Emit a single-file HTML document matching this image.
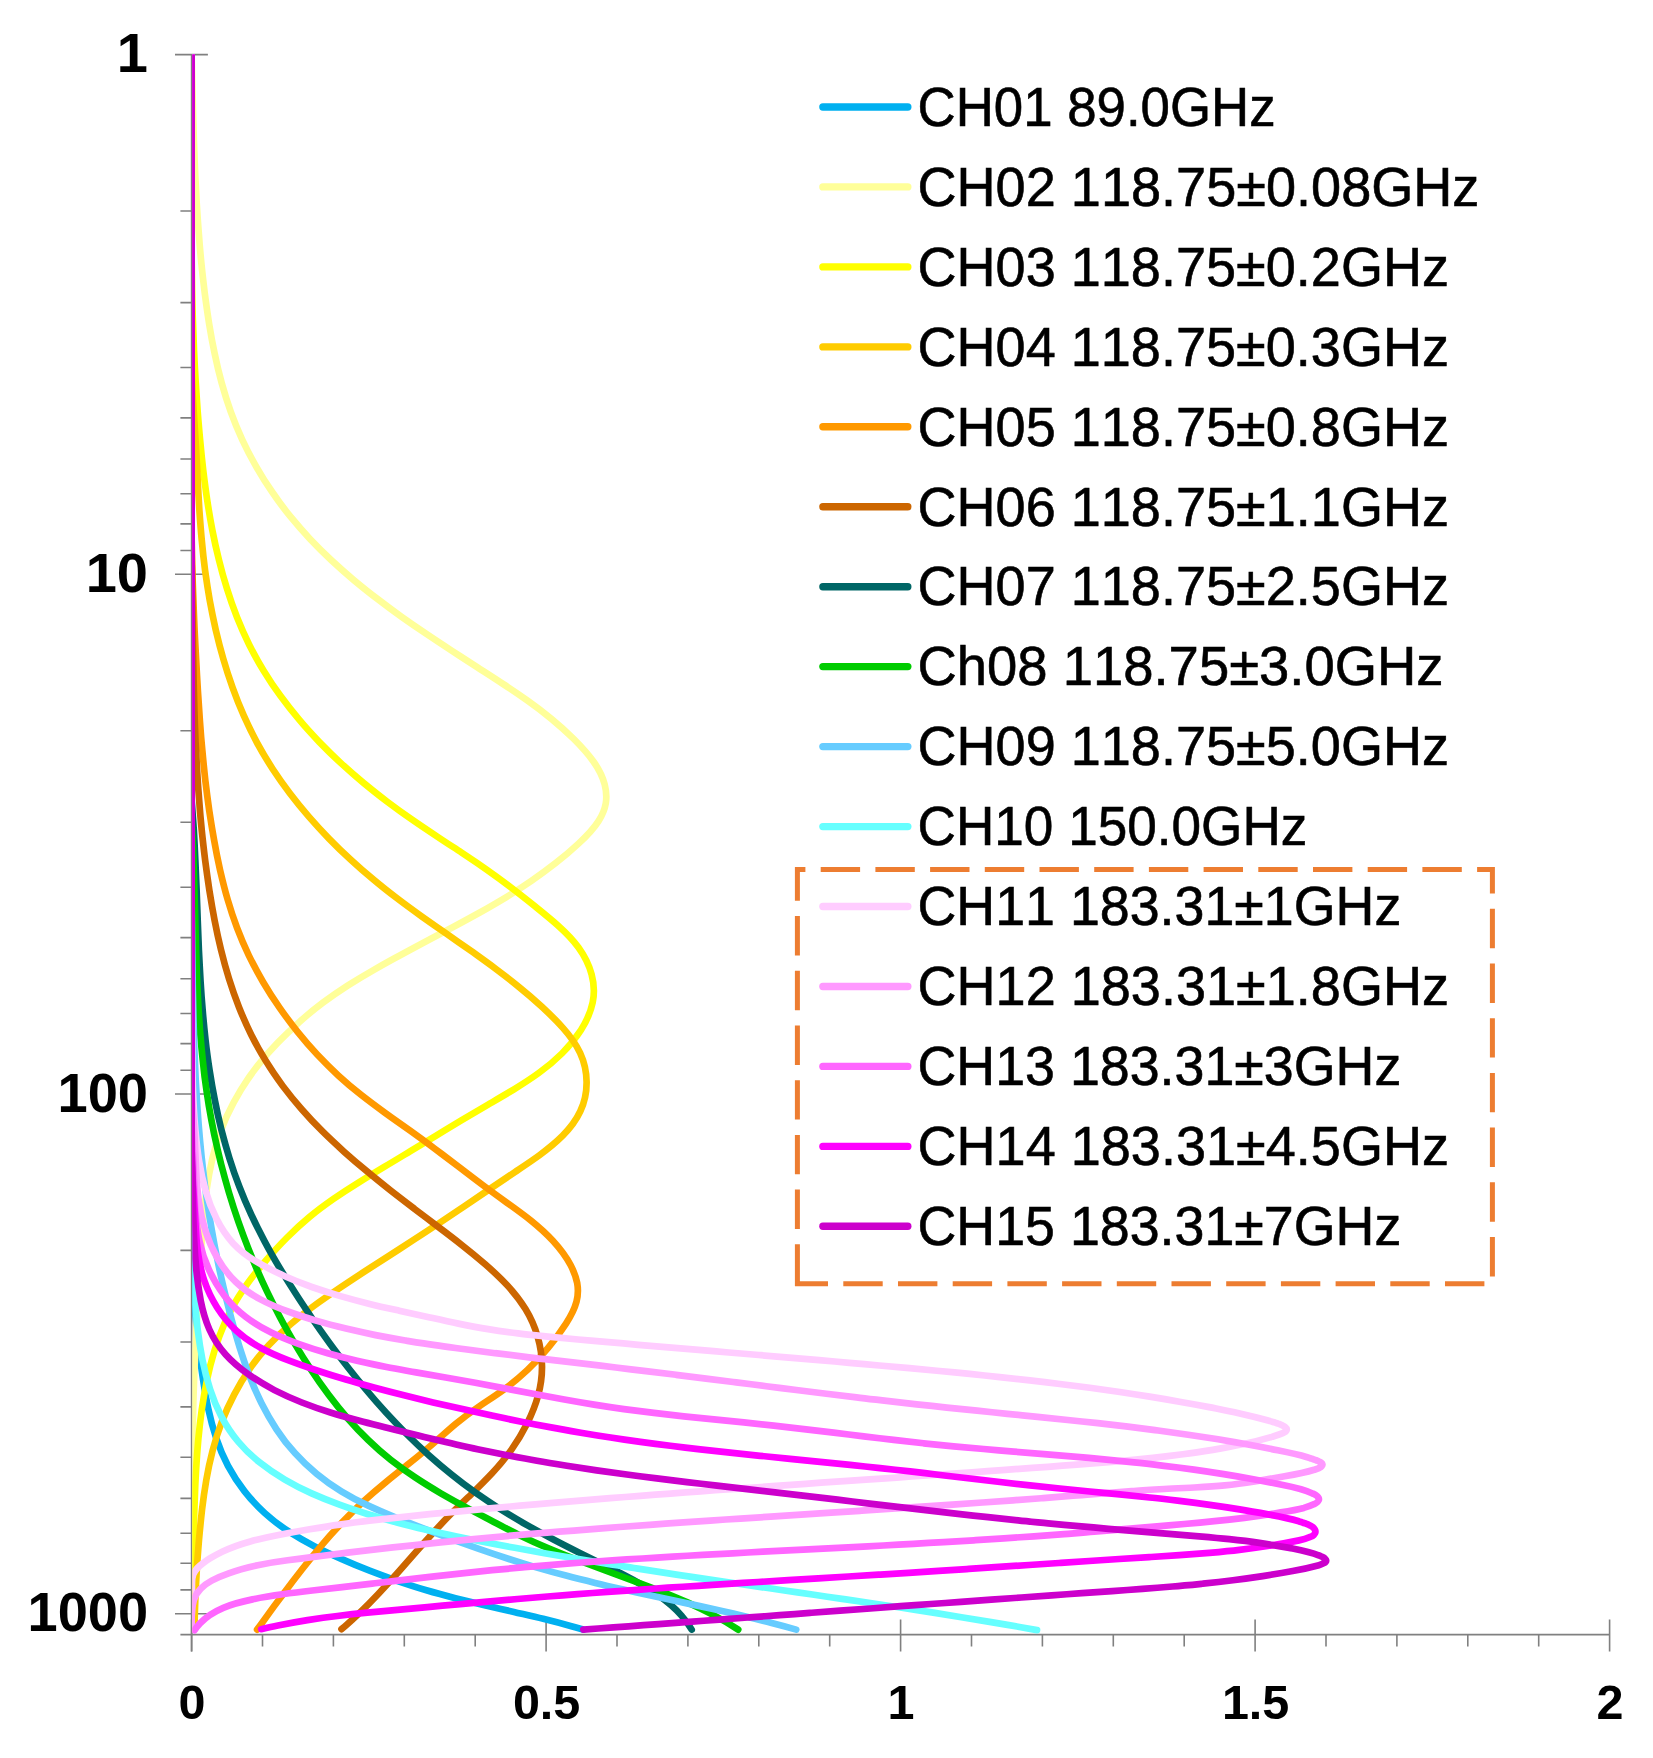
<!DOCTYPE html>
<html><head><meta charset="utf-8"><title>Weighting functions</title>
<style>html,body{margin:0;padding:0;background:#fff}svg{display:block}text{font-family:"Liberation Sans",sans-serif;fill:#000;font-kerning:none}</style></head><body>
<svg width="1653" height="1758" viewBox="0 0 1653 1758">
<rect width="1653" height="1758" fill="#fff"/>
<defs><clipPath id="plot"><rect x="192.3" y="54.6" width="1460" height="1585"/></clipPath></defs>
<g stroke="#808080" stroke-width="1.6" fill="none">
<path d="M191.6 54.6V1651.5"/>
<path d="M180.4 1634.6H1609.7"/>
<path d="M175 54.6H207.9M180.4 211.0H191.6M180.4 302.6H191.6M180.4 367.5H191.6M180.4 417.9H191.6M180.4 459.0H191.6M180.4 493.8H191.6M180.4 523.9H191.6M180.4 550.5H191.6M175 574.3H207.9M180.4 730.7H191.6M180.4 822.3H191.6M180.4 887.2H191.6M180.4 937.6H191.6M180.4 978.7H191.6M180.4 1013.5H191.6M180.4 1043.6H191.6M180.4 1070.2H191.6M175 1094.0H207.9M180.4 1250.4H191.6M180.4 1342.0H191.6M180.4 1406.9H191.6M180.4 1457.3H191.6M180.4 1498.4H191.6M180.4 1533.2H191.6M180.4 1563.3H191.6M180.4 1589.9H191.6M175 1613.7H207.9"/>
<path d="M191.6 1619.4V1651.5M262.5 1634.6V1646.4M333.4 1634.6V1646.4M404.3 1634.6V1646.4M475.2 1634.6V1646.4M546.1 1619.4V1651.5M617.0 1634.6V1646.4M687.9 1634.6V1646.4M758.8 1634.6V1646.4M829.7 1634.6V1646.4M900.6 1619.4V1651.5M971.5 1634.6V1646.4M1042.4 1634.6V1646.4M1113.3 1634.6V1646.4M1184.2 1634.6V1646.4M1255.1 1619.4V1651.5M1326.0 1634.6V1646.4M1396.9 1634.6V1646.4M1467.8 1634.6V1646.4M1538.7 1634.6V1646.4M1609.6 1619.4V1651.5"/>
</g>
<g clip-path="url(#plot)" fill="none" stroke-width="6.7" stroke-linecap="round" stroke-linejoin="round">
<path stroke="#00B0F0" d="M191.6 54.6L191.6 1200.0C191.5 1210.1 191.4 1220.1 191.5 1230.1C191.6 1240.2 191.8 1250.2 192.1 1260.2C192.5 1270.2 193.0 1280.2 193.6 1290.2C194.2 1300.1 195.0 1310.1 195.9 1320.1C196.8 1330.0 197.8 1340.0 199.0 1350.0C200.2 1359.9 201.6 1369.8 203.1 1379.8C204.6 1389.7 206.3 1399.6 208.4 1409.3C210.5 1419.2 213.1 1428.9 216.3 1438.3C219.5 1447.9 223.4 1457.1 228.0 1465.9C232.7 1474.7 238.2 1483.2 244.4 1491.1C250.5 1499.0 257.4 1506.3 264.8 1513.1C272.2 1519.8 280.2 1525.9 288.6 1531.4C297.0 1536.8 305.7 1541.8 314.7 1546.4C323.6 1550.9 332.7 1555.1 341.8 1559.1C351.1 1563.2 360.3 1567.0 369.6 1570.7C379.0 1574.3 388.4 1577.8 397.8 1581.1C407.3 1584.4 416.8 1587.4 426.4 1590.3C436.0 1593.1 445.7 1595.7 455.4 1598.2C465.1 1600.6 474.9 1602.9 484.6 1605.2C494.4 1607.5 504.1 1609.7 513.9 1611.9C523.7 1614.2 533.5 1616.4 543.2 1618.8C552.9 1621.2 562.6 1623.7 572.3 1626.4C576.0 1627.4 579.6 1628.5 583.3 1629.6"/>
<path stroke="#FFFF99" d="M191.6 54.6C191.9 64.6 192.1 74.6 192.3 84.7C192.6 94.7 192.8 104.7 193.1 114.7C193.4 124.7 193.7 134.7 194.0 144.7C194.4 154.7 194.8 164.7 195.2 174.7C195.7 184.7 196.2 194.7 196.8 204.7C197.4 214.7 198.1 224.6 198.9 234.6C199.6 244.6 200.5 254.6 201.5 264.5C202.5 274.5 203.7 284.4 204.9 294.4C206.2 304.3 207.6 314.3 209.2 324.2C210.8 334.1 212.6 344.0 214.7 353.8C216.7 363.6 219.0 373.4 221.7 383.0C224.4 392.8 227.4 402.4 230.8 411.9C234.2 421.4 238.1 430.7 242.3 439.9C246.5 449.0 251.2 457.9 256.2 466.6C261.1 475.3 266.5 483.8 272.2 492.0C277.8 500.3 283.8 508.4 290.1 516.2C296.5 524.0 303.1 531.6 310.0 539.0C316.9 546.3 324.1 553.4 331.4 560.3C338.8 567.2 346.4 573.9 354.1 580.3C361.8 586.7 369.6 593.0 377.6 599.0C385.5 605.1 393.6 611.1 401.8 616.9C410.0 622.7 418.3 628.4 426.6 634.0C435.0 639.7 443.4 645.2 451.8 650.7C460.2 656.2 468.6 661.6 477.1 667.1C485.6 672.6 494.1 678.0 502.5 683.6C510.9 689.1 519.2 694.7 527.4 700.5C535.6 706.3 543.6 712.4 551.4 718.8C559.1 725.1 566.6 731.8 573.8 739.0C580.8 746.0 587.8 753.5 593.6 761.7C598.6 768.7 602.6 776.5 604.7 784.5C606.3 790.8 606.8 797.2 605.8 803.2C604.7 809.5 602.1 815.5 598.5 821.1C593.3 829.2 586.1 836.6 578.5 843.6C571.1 850.5 563.4 857.0 555.5 863.2C547.6 869.4 539.5 875.3 531.2 881.0C522.9 886.7 514.5 892.1 506.0 897.3C497.3 902.5 488.6 907.6 479.8 912.5C471.0 917.4 462.1 922.2 453.2 927.0C444.4 931.7 435.5 936.4 426.7 941.0C417.8 945.7 409.0 950.4 400.2 955.2C391.3 959.9 382.6 964.8 373.9 969.8C365.1 974.8 356.5 980.0 348.0 985.4C339.5 990.9 331.1 996.6 323.1 1002.5C314.9 1008.6 307.2 1015.0 299.7 1021.7C292.2 1028.4 284.9 1035.3 277.8 1042.6C270.7 1049.8 264.1 1057.4 257.9 1065.4C251.7 1073.2 246.0 1081.5 240.8 1090.0C235.5 1098.6 230.8 1107.6 226.6 1116.7C222.5 1125.9 218.9 1135.3 216.0 1144.9C213.1 1154.5 210.9 1164.3 209.1 1174.3C207.3 1184.1 205.9 1194.0 204.8 1204.0C203.7 1214.0 202.9 1224.1 202.2 1234.2C201.5 1244.2 200.9 1254.3 200.3 1264.3C199.6 1274.4 199.0 1284.4 198.4 1294.4C197.8 1304.5 197.2 1314.5 196.6 1324.6C196.1 1334.7 195.6 1344.8 195.1 1354.8C194.6 1364.9 194.2 1375.0 193.9 1385.1C193.5 1395.0 193.3 1405.0 193.0 1415.1C192.8 1425.1 192.7 1435.1 192.5 1445.1C192.4 1455.1 192.3 1465.2 192.2 1475.2C192.1 1485.2 192.1 1495.2 192.1 1505.3C192.0 1515.3 192.0 1525.4 192.0 1535.4C192.0 1545.4 192.0 1555.4 192.0 1565.5C192.0 1575.5 191.9 1585.5 191.9 1595.5C191.8 1605.6 191.7 1615.7 191.6 1625.8C191.6 1626.9 191.6 1627.9 191.6 1629.0"/>
<path stroke="#FFFF00" d="M191.6 54.6L191.6 200.0C191.5 210.1 191.5 220.2 191.5 230.2C191.5 240.3 191.6 250.4 191.7 260.5C191.8 270.5 191.9 280.5 192.1 290.5C192.3 300.5 192.5 310.6 192.9 320.6C193.2 330.7 193.6 340.7 194.0 350.7C194.5 360.7 195.0 370.8 195.6 380.8C196.2 390.8 196.9 400.8 197.6 410.8C198.4 420.8 199.2 430.8 200.2 440.9C201.1 450.9 202.1 460.9 203.3 470.9C204.5 480.8 205.8 490.8 207.3 500.8C208.8 510.7 210.5 520.7 212.4 530.5C214.3 540.3 216.5 550.1 218.9 559.8C221.3 569.6 224.0 579.3 227.0 588.8C230.0 598.4 233.3 607.9 237.0 617.3C240.7 626.6 244.8 635.8 249.2 644.8C253.7 653.7 258.5 662.5 263.8 671.0C269.0 679.6 274.6 688.0 280.6 696.1C286.5 704.2 292.7 712.0 299.2 719.7C305.6 727.4 312.4 734.8 319.4 742.1C326.4 749.3 333.5 756.3 340.9 763.1C348.3 769.9 355.8 776.5 363.5 782.9C371.3 789.3 379.1 795.6 387.1 801.6C395.2 807.7 403.3 813.6 411.6 819.3C419.9 825.1 428.3 830.7 436.7 836.2C445.0 841.8 453.5 847.3 461.8 852.8C470.2 858.4 478.5 864.0 486.8 869.7C495.0 875.5 503.1 881.4 511.2 887.6C519.1 893.6 526.9 899.8 534.8 906.1C542.5 912.4 550.4 918.7 557.9 925.4C565.5 932.2 572.7 939.5 578.5 947.4C584.5 955.7 589.1 964.8 591.6 974.3C594.1 983.5 594.6 993.1 592.7 1002.4C590.7 1012.0 586.5 1021.3 581.0 1030.0C575.5 1038.5 569.0 1046.4 561.9 1053.5C554.8 1060.6 547.0 1067.0 538.9 1072.9C530.7 1078.9 522.2 1084.3 513.6 1089.6C505.0 1094.8 496.3 1099.8 487.7 1104.8C478.9 1109.9 470.3 1115.0 461.7 1120.1C453.1 1125.3 444.4 1130.5 435.8 1135.8C427.2 1141.0 418.6 1146.2 410.0 1151.4C401.4 1156.6 392.9 1161.8 384.2 1166.9C375.6 1172.1 367.0 1177.3 358.5 1182.6C349.9 1187.9 341.5 1193.4 333.3 1199.1C325.0 1204.9 317.0 1210.8 309.3 1217.2C301.6 1223.6 294.2 1230.4 287.1 1237.5C280.0 1244.6 273.2 1252.1 266.6 1259.7C260.0 1267.3 253.6 1275.1 247.7 1283.2C241.8 1291.4 236.3 1299.8 231.6 1308.7C226.9 1317.6 222.8 1326.8 219.3 1336.3C215.8 1345.7 212.9 1355.4 210.4 1365.1C207.9 1374.8 205.9 1384.6 204.2 1394.5C202.4 1404.5 201.0 1414.4 199.9 1424.4C198.7 1434.4 197.8 1444.3 197.1 1454.3C196.4 1464.3 195.8 1474.3 195.3 1484.3C194.9 1494.3 194.5 1504.3 194.2 1514.4C193.8 1524.4 193.5 1534.4 193.2 1544.5C192.9 1554.6 192.6 1564.6 192.4 1574.7C192.1 1584.7 191.9 1594.8 191.8 1604.8C191.7 1612.9 191.6 1621.0 191.6 1629.0"/>
<path stroke="#FFCC00" d="M191.6 54.6L191.6 330.0C191.1 340.0 191.1 350.0 191.2 360.0C191.4 370.1 191.9 380.2 192.4 390.2C193.0 400.3 193.7 410.4 194.3 420.4C195.0 430.5 195.6 440.5 196.2 450.5C196.7 460.5 197.2 470.5 197.7 480.5C198.2 490.5 198.8 500.6 199.4 510.6C200.1 520.6 200.8 530.6 201.8 540.6C202.7 550.6 203.8 560.6 205.1 570.6C206.5 580.5 208.0 590.4 209.7 600.3C211.5 610.1 213.5 619.9 215.7 629.7C218.0 639.5 220.5 649.3 223.3 658.9C226.1 668.6 229.2 678.2 232.6 687.6C236.0 697.1 239.7 706.5 243.8 715.7C247.9 724.9 252.3 733.9 257.1 742.8C261.9 751.6 267.1 760.3 272.5 768.7C278.0 777.1 283.8 785.3 289.8 793.2C295.9 801.2 302.2 809.0 308.8 816.6C315.4 824.2 322.2 831.6 329.2 838.8C336.2 846.0 343.4 853.0 350.8 859.7C358.2 866.6 365.8 873.2 373.6 879.6C381.3 886.1 389.2 892.3 397.2 898.4C405.2 904.5 413.3 910.4 421.4 916.2C429.6 922.0 437.9 927.8 446.2 933.5C454.4 939.3 462.7 945.0 470.9 950.8C479.1 956.7 487.3 962.5 495.4 968.6C503.4 974.6 511.4 980.7 519.1 987.1C526.9 993.4 534.4 999.9 541.9 1006.7C549.2 1013.5 556.5 1020.6 563.1 1028.1C569.9 1035.7 575.9 1043.9 580.1 1052.9C584.3 1061.9 586.5 1072.0 586.6 1082.0C586.7 1092.3 584.5 1102.4 580.3 1111.3C576.1 1120.3 570.0 1128.3 562.7 1135.7C555.8 1142.6 547.9 1149.0 539.6 1155.1C531.5 1161.0 523.0 1166.6 514.7 1172.2C506.2 1177.9 497.8 1183.6 489.6 1189.1C481.3 1194.8 473.0 1200.4 464.8 1206.0C456.5 1211.6 448.2 1217.1 439.8 1222.7C431.5 1228.2 423.1 1233.8 414.5 1239.3C406.2 1244.7 397.7 1250.2 389.3 1255.6C380.9 1261.0 372.5 1266.5 364.0 1271.9C355.6 1277.4 347.2 1282.9 338.9 1288.5C330.6 1294.1 322.3 1299.7 314.3 1305.6C306.1 1311.5 298.2 1317.7 290.6 1324.2C283.0 1330.7 275.7 1337.6 268.9 1345.0C262.1 1352.4 255.7 1360.2 249.9 1368.6C244.2 1376.8 239.0 1385.4 234.3 1394.4C229.6 1403.3 225.4 1412.5 221.8 1421.9C218.2 1431.3 215.2 1440.9 212.6 1450.6C210.1 1460.3 208.0 1470.1 206.3 1480.0C204.6 1489.9 203.2 1499.8 202.0 1509.8C200.9 1519.8 199.9 1529.8 199.0 1539.8C198.2 1549.8 197.4 1559.8 196.8 1569.8C196.2 1579.8 195.7 1589.9 195.3 1599.9C194.9 1609.7 194.6 1619.4 194.4 1629.2"/>
<path stroke="#FF9900" d="M191.6 54.6L191.6 480.0C191.5 490.1 191.4 500.1 191.4 510.2C191.4 520.2 191.5 530.3 191.7 540.3C191.9 550.4 192.1 560.4 192.4 570.5C192.6 580.5 193.0 590.6 193.4 600.6C193.7 610.6 194.2 620.7 194.6 630.7C195.1 640.7 195.6 650.8 196.2 660.8C196.7 670.8 197.3 680.9 197.9 690.9C198.5 701.0 199.2 711.0 199.9 721.0C200.6 731.1 201.4 741.1 202.4 751.1C203.3 761.1 204.3 771.1 205.4 781.1C206.6 791.1 207.9 801.0 209.3 811.0C210.8 820.9 212.4 830.8 214.2 840.7C215.9 850.6 217.9 860.4 220.1 870.2C222.4 880.0 224.8 889.8 227.6 899.4C230.4 909.0 233.5 918.6 237.1 928.0C240.6 937.3 244.6 946.6 248.9 955.6C253.3 964.7 258.1 973.5 263.2 982.2C268.3 990.9 273.8 999.4 279.5 1007.6C285.3 1015.9 291.3 1024.0 297.6 1031.8C303.9 1039.6 310.4 1047.2 317.2 1054.6C324.1 1061.9 331.2 1069.0 338.5 1075.7C345.9 1082.5 353.6 1089.0 361.5 1095.2C369.4 1101.4 377.5 1107.4 385.6 1113.3C393.8 1119.2 402.1 1125.0 410.3 1130.8C418.5 1136.7 426.6 1142.6 434.6 1148.6C442.6 1154.6 450.6 1160.7 458.5 1166.7C466.5 1172.8 474.4 1178.9 482.5 1184.9C490.5 1190.9 498.7 1196.8 506.9 1202.7C515.0 1208.5 523.2 1214.4 531.0 1220.6C538.8 1226.9 546.3 1233.6 553.1 1241.0C559.8 1248.3 566.1 1256.5 570.7 1265.3C573.7 1271.1 576.0 1277.0 577.2 1283.0C578.3 1289.3 578.1 1295.6 576.5 1301.7C574.5 1309.2 570.6 1316.6 566.0 1323.6C560.5 1332.2 554.4 1340.3 548.1 1347.9C541.6 1355.7 534.7 1363.1 527.5 1369.9C520.2 1376.8 512.5 1383.3 504.3 1389.2C496.3 1395.1 487.8 1400.5 479.4 1406.2C471.1 1411.8 463.1 1417.7 455.4 1424.1C447.7 1430.6 440.3 1437.4 432.7 1444.0C425.1 1450.6 417.3 1456.9 409.5 1463.2C401.6 1469.5 393.7 1475.7 385.9 1482.1C378.1 1488.5 370.5 1495.0 363.1 1501.7C355.7 1508.5 348.6 1515.6 341.7 1522.9C334.8 1530.2 328.1 1537.6 321.6 1545.3C315.1 1552.9 308.7 1560.8 302.5 1568.7C296.3 1576.6 290.2 1584.6 284.2 1592.7C278.2 1600.7 272.2 1608.8 266.3 1616.9C263.3 1621.1 260.2 1625.4 257.1 1629.6"/>
<path stroke="#CC6600" d="M191.6 54.6L191.6 560.0C191.8 570.0 192.0 580.1 192.1 590.1C192.3 600.1 192.4 610.2 192.6 620.2C192.7 630.3 192.9 640.3 193.0 650.3C193.2 660.4 193.4 670.4 193.6 680.5C193.8 690.5 194.1 700.5 194.4 710.6C194.7 720.6 195.1 730.7 195.5 740.7C196.0 750.7 196.5 760.7 197.1 770.7C197.7 780.8 198.4 790.8 199.2 800.8C199.9 810.8 200.8 820.8 201.8 830.8C202.8 840.7 204.0 850.7 205.2 860.7C206.5 870.7 207.9 880.6 209.4 890.5C211.0 900.5 212.7 910.4 214.6 920.3C216.5 930.2 218.6 940.0 221.0 949.7C223.4 959.5 226.0 969.1 229.0 978.7C232.0 988.3 235.3 997.8 239.0 1007.2C242.7 1016.5 246.7 1025.7 251.2 1034.7C255.7 1043.7 260.6 1052.5 265.9 1061.0C271.1 1069.5 276.8 1077.8 282.7 1085.9C288.8 1094.0 295.1 1101.8 301.7 1109.3C308.3 1116.9 315.2 1124.2 322.3 1131.2C329.4 1138.3 336.8 1145.1 344.3 1151.9C351.7 1158.5 359.3 1165.0 367.1 1171.4C374.8 1177.8 382.6 1184.1 390.5 1190.4C398.4 1196.6 406.4 1202.7 414.4 1208.8C422.4 1214.9 430.4 1220.9 438.4 1227.0C446.4 1233.0 454.4 1239.1 462.2 1245.3C470.1 1251.5 477.9 1257.9 485.5 1264.5C493.0 1271.1 500.4 1278.0 507.2 1285.3C514.1 1292.7 520.3 1300.6 525.5 1309.1C530.7 1317.6 534.8 1326.8 537.6 1336.6C540.4 1346.2 541.9 1356.3 542.0 1366.2C542.1 1376.3 540.7 1386.2 538.0 1395.9C535.4 1405.5 531.5 1414.8 527.0 1423.8C522.5 1432.8 517.3 1441.4 511.5 1449.6C505.7 1457.8 499.2 1465.5 492.5 1472.8C485.6 1480.2 478.4 1487.3 471.2 1494.3C464.0 1501.2 456.7 1508.1 449.7 1515.2C442.7 1522.4 435.8 1529.7 429.1 1537.2C422.4 1544.6 415.7 1552.2 409.1 1559.7C402.5 1567.3 395.8 1574.9 389.1 1582.3C382.4 1589.7 375.5 1597.1 368.5 1604.2C361.4 1611.3 354.2 1618.2 346.7 1624.8C345.0 1626.3 343.2 1627.8 341.5 1629.2"/>
<path stroke="#006666" d="M191.6 54.6L191.6 800.0C192.4 810.0 193.1 820.0 193.8 830.0C194.4 840.0 194.9 850.0 195.3 860.0C195.8 870.0 196.2 880.0 196.6 890.0C197.0 900.1 197.3 910.1 197.7 920.2C198.1 930.2 198.5 940.2 198.9 950.3C199.4 960.3 199.9 970.4 200.5 980.4C201.1 990.4 201.8 1000.4 202.7 1010.5C203.5 1020.5 204.5 1030.5 205.6 1040.5C206.7 1050.4 208.1 1060.4 209.6 1070.3C211.1 1080.2 212.8 1090.1 214.8 1100.0C216.7 1109.8 218.9 1119.7 221.3 1129.4C223.8 1139.1 226.5 1148.8 229.5 1158.4C232.5 1168.0 235.8 1177.5 239.4 1186.8C243.0 1196.2 246.9 1205.4 251.2 1214.5C255.4 1223.6 259.9 1232.5 264.6 1241.3C269.3 1250.2 274.3 1258.9 279.4 1267.5C284.6 1276.1 289.9 1284.6 295.3 1293.0C300.7 1301.5 306.3 1309.8 311.9 1318.1C317.6 1326.4 323.4 1334.6 329.3 1342.8C335.2 1350.9 341.3 1358.9 347.4 1366.8C353.6 1374.7 359.9 1382.5 366.4 1390.2C372.8 1397.9 379.4 1405.4 386.2 1412.8C393.0 1420.2 399.9 1427.4 407.0 1434.5C414.1 1441.6 421.4 1448.5 428.8 1455.2C436.3 1461.9 443.9 1468.4 451.7 1474.6C459.5 1480.9 467.5 1486.9 475.7 1492.8C483.9 1498.6 492.2 1504.1 500.8 1509.5C509.3 1514.8 517.9 1519.9 526.6 1524.9C535.3 1529.8 544.1 1534.6 553.0 1539.2C561.9 1543.9 570.8 1548.4 579.8 1552.9C588.8 1557.4 597.8 1561.8 606.7 1566.2C615.8 1570.6 624.7 1575.1 633.4 1580.0C642.2 1584.8 650.8 1590.0 658.9 1595.8C667.2 1601.6 674.9 1608.0 681.5 1615.6C685.3 1619.9 688.7 1624.5 691.7 1629.6"/>
<path stroke="#00CC00" d="M191.6 54.6L191.6 820.0C192.2 830.0 192.7 840.0 193.1 850.0C193.5 860.0 193.8 870.0 194.1 880.1C194.4 890.1 194.7 900.1 195.0 910.2C195.2 920.2 195.5 930.3 195.8 940.3C196.0 950.4 196.4 960.4 196.7 970.5C197.1 980.5 197.6 990.6 198.1 1000.6C198.6 1010.6 199.3 1020.6 200.0 1030.6C200.8 1040.6 201.7 1050.6 202.8 1060.6C203.8 1070.5 205.0 1080.5 206.5 1090.4C207.9 1100.3 209.5 1110.2 211.4 1120.0C213.2 1129.9 215.3 1139.7 217.6 1149.4C219.8 1159.2 222.3 1168.9 225.0 1178.6C227.6 1188.3 230.5 1197.9 233.6 1207.5C236.7 1217.0 240.0 1226.5 243.5 1235.9C247.0 1245.3 250.7 1254.6 254.6 1263.9C258.5 1273.1 262.6 1282.3 267.0 1291.4C271.3 1300.4 275.8 1309.4 280.5 1318.3C285.2 1327.2 290.2 1335.9 295.3 1344.6C300.4 1353.2 305.7 1361.7 311.3 1370.1C316.8 1378.5 322.6 1386.7 328.6 1394.8C334.6 1402.8 340.9 1410.7 347.5 1418.2C354.1 1425.8 361.0 1433.1 368.2 1440.0C375.4 1447.0 382.9 1453.6 390.8 1459.9C398.7 1466.1 406.8 1471.9 415.2 1477.4C423.6 1483.0 432.1 1488.2 440.8 1493.3C449.5 1498.3 458.3 1503.2 467.1 1507.9C476.0 1512.7 484.9 1517.3 493.8 1522.0C502.7 1526.6 511.5 1531.3 520.5 1535.7C529.5 1540.1 538.6 1544.2 547.9 1548.1C557.1 1552.0 566.4 1555.7 575.8 1559.3C585.1 1562.9 594.5 1566.4 603.8 1569.9C613.2 1573.4 622.7 1576.8 632.1 1580.3C641.5 1583.8 650.9 1587.3 660.3 1591.0C669.6 1594.7 678.9 1598.5 688.0 1602.6C697.1 1606.7 706.2 1611.1 715.0 1615.9C722.9 1620.1 730.7 1624.7 738.2 1629.6"/>
<path stroke="#66CCFF" d="M191.6 54.6L191.6 900.0C191.7 910.0 191.9 920.1 192.0 930.1C192.1 940.2 192.2 950.2 192.4 960.3C192.5 970.3 192.7 980.3 192.8 990.3C193.0 1000.3 193.2 1010.3 193.5 1020.3C193.8 1030.3 194.1 1040.3 194.4 1050.3C194.8 1060.3 195.2 1070.3 195.7 1080.2C196.3 1090.3 196.9 1100.3 197.6 1110.4C198.3 1120.4 199.1 1130.4 200.0 1140.4C200.9 1150.4 201.9 1160.4 203.1 1170.4C204.2 1180.4 205.5 1190.3 207.0 1200.3C208.4 1210.2 210.0 1220.1 211.8 1230.0C213.5 1239.9 215.4 1249.8 217.4 1259.6C219.4 1269.5 221.6 1279.3 223.9 1289.1C226.3 1298.9 228.7 1308.6 231.3 1318.3C233.9 1328.0 236.7 1337.6 239.6 1347.2C242.6 1356.8 245.8 1366.3 249.4 1375.7C253.0 1385.0 257.0 1394.2 261.5 1403.2C266.0 1412.2 271.0 1420.9 276.5 1429.3C282.0 1437.7 288.1 1445.7 294.9 1453.1C301.6 1460.6 308.9 1467.5 316.7 1473.8C324.4 1480.2 332.7 1486.0 341.3 1491.3C349.8 1496.5 358.7 1501.2 367.7 1505.4C376.8 1509.7 386.0 1513.6 395.3 1517.3C404.6 1521.1 413.9 1524.7 423.3 1528.3C432.6 1531.9 442.0 1535.5 451.4 1539.0C460.8 1542.4 470.2 1545.8 479.6 1549.1C489.1 1552.4 498.6 1555.6 508.2 1558.7C517.7 1561.8 527.3 1564.8 537.0 1567.6C546.6 1570.4 556.3 1573.1 566.0 1575.6C575.7 1578.2 585.5 1580.6 595.2 1582.9C605.0 1585.3 614.8 1587.5 624.6 1589.7C634.4 1591.9 644.3 1594.1 654.1 1596.2C663.9 1598.4 673.8 1600.5 683.6 1602.6C693.4 1604.7 703.3 1606.9 713.1 1609.1C722.9 1611.2 732.7 1613.5 742.5 1615.8C752.3 1618.1 762.0 1620.5 771.7 1623.0C779.9 1625.1 788.1 1627.3 796.2 1629.6"/>
<path stroke="#66FFFF" d="M191.6 54.6L191.6 1150.0C191.8 1160.1 192.0 1170.1 192.0 1180.0C192.1 1190.1 192.2 1200.1 192.3 1210.1C192.3 1220.1 192.4 1230.2 192.6 1240.2C192.8 1250.2 193.0 1260.2 193.4 1270.2C193.8 1280.2 194.3 1290.2 195.0 1300.4C195.8 1310.3 196.6 1320.3 197.8 1330.4C199.0 1340.3 200.6 1350.3 202.5 1360.1C204.5 1370.0 207.0 1379.8 210.1 1389.2C213.2 1398.9 217.0 1408.1 221.6 1416.9C226.3 1425.8 231.8 1434.2 238.4 1441.9C244.7 1449.5 252.0 1456.4 260.0 1462.7C267.7 1468.9 276.1 1474.5 284.8 1479.6C293.5 1484.7 302.4 1489.2 311.6 1493.4C320.7 1497.5 330.1 1501.2 339.5 1504.6C349.0 1508.1 358.5 1511.2 368.1 1514.2C377.6 1517.1 387.3 1519.8 396.9 1522.4C406.6 1525.0 416.4 1527.4 426.2 1529.7C436.0 1532.0 445.8 1534.2 455.6 1536.2C465.5 1538.3 475.3 1540.3 485.2 1542.2C495.0 1544.1 504.9 1546.0 514.8 1547.8C524.7 1549.6 534.6 1551.4 544.5 1553.2C554.4 1554.9 564.3 1556.6 574.2 1558.3C584.1 1560.0 594.0 1561.6 604.0 1563.2C613.9 1564.9 623.8 1566.4 633.8 1568.0C643.7 1569.6 653.6 1571.1 663.6 1572.6C673.5 1574.2 683.5 1575.7 693.4 1577.1C703.4 1578.6 713.3 1580.1 723.3 1581.6C733.2 1583.0 743.1 1584.5 753.0 1585.9C762.9 1587.3 772.8 1588.8 782.7 1590.2C792.6 1591.6 802.5 1593.1 812.4 1594.5C822.3 1596.0 832.1 1597.4 842.0 1598.9C852.0 1600.3 862.0 1601.8 871.9 1603.3C881.9 1604.8 891.8 1606.3 901.7 1607.8C911.7 1609.3 921.6 1610.8 931.6 1612.4C941.5 1614.0 951.4 1615.5 961.4 1617.2C971.3 1618.8 981.2 1620.4 991.1 1622.1C1001.0 1623.8 1011.0 1625.5 1020.9 1627.2C1026.2 1628.2 1031.6 1629.1 1037.0 1630.1"/>
<path stroke="#FFCCFF" d="M191.6 54.6L191.6 980.0C191.8 990.1 192.0 1000.1 192.0 1010.2C192.1 1020.3 192.1 1030.4 192.2 1040.5C192.2 1050.5 192.3 1060.6 192.5 1070.7C192.6 1080.8 192.9 1090.9 193.4 1100.9C193.9 1111.0 194.5 1121.0 195.5 1131.1C196.4 1141.1 197.5 1151.2 199.1 1161.1C200.7 1171.1 202.8 1180.9 205.6 1190.6C208.3 1200.2 211.9 1209.6 216.4 1218.5C220.9 1227.5 226.5 1236.0 233.2 1243.4C240.0 1250.7 248.1 1256.7 256.9 1261.9C265.6 1267.1 274.7 1271.6 283.8 1275.7C293.0 1279.9 302.4 1283.6 311.8 1287.0C321.3 1290.3 330.9 1293.3 340.5 1296.1C350.2 1298.9 359.9 1301.5 369.7 1303.9C379.5 1306.3 389.4 1308.5 399.2 1310.7C409.1 1312.9 419.0 1315.1 428.8 1317.2C438.7 1319.4 448.5 1321.6 458.4 1323.6C468.3 1325.6 478.1 1327.5 488.1 1329.1C498.0 1330.8 508.0 1332.2 518.0 1333.4C528.0 1334.7 538.0 1335.7 548.0 1336.7C558.1 1337.7 568.1 1338.6 578.1 1339.5C588.2 1340.4 598.2 1341.3 608.3 1342.1C618.3 1343.0 628.4 1343.9 638.4 1344.8C648.4 1345.6 658.5 1346.5 668.5 1347.3C678.6 1348.2 688.6 1349.1 698.6 1349.9C708.7 1350.8 718.7 1351.6 728.8 1352.5C738.8 1353.3 748.8 1354.2 758.9 1355.0C768.9 1355.9 778.9 1356.7 789.0 1357.6C799.0 1358.4 809.0 1359.3 819.1 1360.2C829.1 1361.0 839.2 1361.9 849.2 1362.8C859.2 1363.7 869.3 1364.6 879.3 1365.5C889.4 1366.4 899.4 1367.3 909.4 1368.2C919.5 1369.1 929.5 1370.0 939.5 1371.0C949.6 1372.0 959.6 1372.9 969.7 1373.9C979.7 1375.0 989.7 1376.0 999.7 1377.1C1009.8 1378.1 1019.8 1379.2 1029.8 1380.4C1039.8 1381.5 1049.8 1382.7 1059.8 1384.0C1069.8 1385.2 1079.8 1386.5 1089.8 1387.8C1099.8 1389.2 1109.8 1390.6 1119.8 1392.0C1129.7 1393.5 1139.7 1395.0 1149.6 1396.6C1159.6 1398.2 1169.5 1399.9 1179.4 1401.7C1189.3 1403.4 1199.2 1405.2 1209.1 1407.1C1219.0 1409.1 1228.9 1411.0 1238.7 1413.2C1248.5 1415.4 1258.4 1417.8 1268.1 1420.5C1268.8 1420.7 1269.4 1420.9 1270.1 1421.1C1270.8 1421.3 1271.4 1421.5 1272.1 1421.7C1272.8 1421.9 1273.4 1422.1 1274.1 1422.3C1274.8 1422.5 1275.4 1422.7 1276.1 1423.0C1276.8 1423.2 1277.4 1423.4 1278.1 1423.6C1278.7 1423.8 1279.4 1424.1 1280.0 1424.3C1280.7 1424.6 1281.3 1424.9 1282.0 1425.2C1282.6 1425.5 1283.2 1425.9 1283.8 1426.3C1284.4 1426.6 1285.1 1427.1 1285.6 1427.6C1286.3 1428.1 1286.8 1428.8 1286.8 1429.5C1286.7 1430.3 1286.3 1431.0 1285.6 1431.6C1284.8 1432.2 1283.8 1432.7 1282.8 1433.1C1279.2 1434.6 1275.5 1435.7 1271.8 1436.9C1262.1 1439.8 1252.3 1442.2 1242.5 1444.3C1232.6 1446.4 1222.7 1448.2 1212.8 1449.9C1202.8 1451.5 1192.9 1453.0 1182.9 1454.3C1172.9 1455.6 1162.9 1456.8 1152.9 1457.9C1142.9 1459.0 1132.8 1460.0 1122.8 1460.9C1112.8 1461.8 1102.7 1462.6 1092.7 1463.4C1082.6 1464.2 1072.6 1465.0 1062.5 1465.7C1052.5 1466.5 1042.4 1467.2 1032.4 1467.9C1022.3 1468.7 1012.2 1469.4 1002.2 1470.1C992.1 1470.8 982.1 1471.5 972.0 1472.3C962.0 1473.0 951.9 1473.7 941.9 1474.4C931.8 1475.1 921.8 1475.8 911.7 1476.5C901.7 1477.2 891.6 1477.9 881.6 1478.6C871.5 1479.3 861.5 1480.0 851.4 1480.6C841.3 1481.3 831.3 1482.0 821.2 1482.7C811.2 1483.4 801.1 1484.1 791.1 1484.9C781.0 1485.6 771.0 1486.3 760.9 1487.0C750.9 1487.7 740.8 1488.4 730.8 1489.1C720.7 1489.9 710.7 1490.6 700.6 1491.3C690.6 1492.1 680.5 1492.8 670.5 1493.6C660.4 1494.3 650.4 1495.1 640.3 1495.8C630.3 1496.6 620.2 1497.4 610.2 1498.2C600.1 1499.0 590.1 1499.8 580.1 1500.6C570.0 1501.4 560.0 1502.3 549.9 1503.1C539.9 1504.0 529.8 1504.9 519.8 1505.7C509.8 1506.6 499.7 1507.5 489.7 1508.4C479.7 1509.4 469.6 1510.3 459.6 1511.3C449.6 1512.2 439.6 1513.2 429.5 1514.2C419.5 1515.2 409.5 1516.2 399.5 1517.3C389.5 1518.4 379.5 1519.5 369.5 1520.7C359.5 1521.9 349.5 1523.2 339.5 1524.6C329.5 1526.0 319.5 1527.6 309.6 1529.2C299.6 1530.9 289.7 1532.7 279.8 1534.7C269.9 1536.6 260.0 1538.7 250.3 1541.4C240.6 1544.1 231.1 1547.4 222.1 1551.7C218.1 1553.7 214.1 1555.8 210.3 1558.2C208.0 1559.6 205.8 1561.1 203.6 1562.7C201.4 1564.3 199.4 1566.0 197.6 1567.9C195.7 1569.9 194.2 1572.1 193.2 1574.6C192.3 1577.0 192.1 1579.7 192.0 1582.5C191.8 1590.8 192.3 1599.1 192.0 1606.9C191.7 1614.1 191.4 1621.2 191.6 1629.0"/>
<path stroke="#FF99FF" d="M191.6 54.6L191.6 1050.0C190.8 1060.1 190.8 1070.3 191.1 1080.4C191.4 1090.5 192.1 1100.6 192.8 1110.6C193.6 1120.7 194.3 1130.8 194.8 1140.9C195.3 1151.0 195.6 1161.1 196.1 1171.2C196.6 1181.3 197.4 1191.3 198.8 1201.3C200.2 1211.2 202.3 1221.1 205.4 1230.7C208.5 1240.3 212.5 1249.6 217.5 1258.2C222.6 1267.1 228.7 1275.2 235.9 1282.0C243.1 1288.9 251.4 1294.6 260.4 1299.4C269.1 1304.1 278.4 1308.0 288.0 1311.5C297.5 1315.0 307.2 1318.0 316.9 1320.9C326.6 1323.7 336.3 1326.2 346.0 1328.6C355.8 1330.9 365.7 1333.1 375.6 1335.1C385.5 1337.0 395.4 1338.8 405.3 1340.5C415.3 1342.1 425.2 1343.7 435.2 1345.1C445.1 1346.6 455.1 1347.9 465.1 1349.3C475.1 1350.6 485.1 1351.9 495.2 1353.2C505.2 1354.4 515.2 1355.6 525.3 1356.8C535.3 1358.1 545.4 1359.2 555.4 1360.4C565.5 1361.6 575.6 1362.8 585.6 1363.9C595.7 1365.1 605.7 1366.3 615.8 1367.5C625.8 1368.7 635.9 1369.9 645.9 1371.1C656.0 1372.4 666.0 1373.6 676.0 1374.8C686.1 1376.1 696.1 1377.4 706.1 1378.6C716.2 1379.9 726.2 1381.1 736.2 1382.4C746.2 1383.7 756.3 1384.9 766.3 1386.2C776.3 1387.5 786.3 1388.7 796.3 1390.0C806.4 1391.2 816.4 1392.5 826.4 1393.7C836.5 1394.9 846.5 1396.1 856.5 1397.3C866.5 1398.6 876.6 1399.7 886.6 1400.9C896.7 1402.1 906.7 1403.2 916.7 1404.3C926.8 1405.4 936.8 1406.5 946.9 1407.6C957.0 1408.6 967.0 1409.7 977.1 1410.7C987.2 1411.7 997.2 1412.8 1007.3 1413.8C1017.4 1414.8 1027.4 1415.8 1037.5 1416.8C1047.6 1417.9 1057.7 1418.9 1067.7 1420.0C1077.8 1421.0 1087.8 1422.1 1097.9 1423.2C1107.9 1424.4 1118.0 1425.5 1128.0 1426.7C1138.1 1428.0 1148.1 1429.2 1158.1 1430.5C1168.1 1431.9 1178.1 1433.3 1188.1 1434.7C1198.1 1436.2 1208.1 1437.7 1218.1 1439.3C1228.0 1441.0 1238.0 1442.7 1247.9 1444.5C1257.8 1446.3 1267.8 1448.2 1277.7 1450.3C1287.6 1452.3 1297.6 1454.4 1307.2 1457.2C1307.9 1457.4 1308.6 1457.6 1309.3 1457.9C1309.9 1458.1 1310.6 1458.3 1311.2 1458.5C1311.9 1458.7 1312.6 1458.9 1313.2 1459.2C1313.9 1459.4 1314.5 1459.6 1315.2 1459.9C1315.8 1460.1 1316.5 1460.4 1317.1 1460.6C1317.7 1460.9 1318.4 1461.2 1319.0 1461.5C1319.7 1461.8 1320.4 1462.2 1321.0 1462.6C1321.7 1463.1 1322.3 1463.6 1322.4 1464.1C1322.6 1464.7 1322.2 1465.4 1321.8 1466.0C1321.1 1466.8 1320.3 1467.4 1319.4 1467.9C1317.7 1468.7 1316.0 1469.2 1314.2 1469.8C1304.6 1472.8 1294.6 1474.6 1284.6 1476.3C1274.6 1478.0 1264.7 1479.8 1254.7 1481.5C1244.8 1483.1 1234.8 1484.5 1224.7 1485.4C1214.7 1486.3 1204.6 1486.9 1194.4 1487.5C1184.3 1488.0 1174.2 1488.4 1164.1 1489.0C1154.0 1489.6 1143.9 1490.2 1133.8 1491.0C1123.7 1491.7 1113.6 1492.5 1103.6 1493.3C1093.5 1494.1 1083.4 1495.0 1073.3 1495.7C1063.3 1496.5 1053.2 1497.3 1043.1 1498.1C1033.0 1498.8 1022.9 1499.6 1012.9 1500.3C1002.8 1501.1 992.7 1501.8 982.6 1502.5C972.5 1503.2 962.4 1503.9 952.3 1504.6C942.3 1505.3 932.2 1506.0 922.1 1506.7C912.0 1507.3 901.9 1508.0 891.8 1508.7C881.7 1509.3 871.6 1510.0 861.5 1510.7C851.4 1511.3 841.3 1512.0 831.3 1512.6C821.2 1513.3 811.1 1513.9 801.0 1514.6C790.9 1515.3 780.8 1515.9 770.7 1516.6C760.6 1517.2 750.5 1517.9 740.4 1518.6C730.3 1519.2 720.3 1519.9 710.2 1520.6C700.1 1521.3 690.0 1521.9 679.9 1522.6C669.8 1523.3 659.8 1524.0 649.7 1524.8C639.6 1525.5 629.5 1526.2 619.4 1527.0C609.3 1527.7 599.3 1528.5 589.2 1529.3C579.1 1530.0 569.0 1530.8 559.0 1531.7C548.9 1532.5 538.8 1533.3 528.7 1534.2C518.7 1535.0 508.6 1535.9 498.5 1536.8C488.5 1537.8 478.4 1538.7 468.3 1539.7C458.3 1540.6 448.2 1541.6 438.1 1542.6C428.1 1543.7 418.0 1544.7 407.9 1545.8C397.9 1546.9 387.8 1548.0 377.8 1549.1C367.7 1550.3 357.7 1551.5 347.7 1552.7C337.6 1553.9 327.6 1555.1 317.6 1556.4C307.6 1557.6 297.6 1558.9 287.6 1560.3C277.6 1561.6 267.6 1563.2 257.7 1565.2C248.0 1567.3 238.3 1569.8 228.7 1573.3C222.9 1575.3 217.1 1577.7 211.7 1580.6C207.6 1582.8 203.9 1585.5 200.8 1588.6C197.7 1591.7 195.4 1595.4 193.9 1599.8C192.4 1604.7 191.8 1610.2 191.7 1615.7C191.6 1620.4 191.7 1625.0 191.6 1629.0"/>
<path stroke="#FF66FF" d="M191.6 54.6L191.6 1090.0C191.1 1100.2 191.2 1110.3 191.4 1120.3C191.7 1130.4 192.2 1140.5 192.7 1150.6C193.2 1160.6 193.7 1170.6 194.0 1180.7C194.4 1190.9 194.7 1201.0 195.4 1211.1C196.2 1221.2 197.4 1231.2 199.5 1241.1C201.6 1250.9 204.7 1260.5 208.9 1269.7C213.1 1278.9 218.3 1287.7 224.4 1295.7C230.6 1303.6 237.7 1310.7 245.7 1316.8C253.6 1322.9 262.2 1328.0 271.3 1332.5C280.2 1336.9 289.6 1340.7 299.1 1344.1C308.6 1347.5 318.1 1350.5 327.7 1353.3C337.4 1356.0 347.2 1358.5 357.0 1360.8C366.8 1363.0 376.6 1365.1 386.4 1367.0C396.2 1368.9 406.1 1370.6 416.0 1372.4C425.8 1374.1 435.7 1375.8 445.6 1377.5C455.5 1379.2 465.4 1381.0 475.3 1382.8C485.1 1384.6 495.0 1386.5 504.9 1388.4C514.8 1390.2 524.7 1392.1 534.6 1394.0C544.5 1395.9 554.4 1397.7 564.3 1399.5C574.2 1401.3 584.1 1403.0 594.1 1404.6C604.0 1406.2 614.0 1407.7 623.9 1409.1C633.9 1410.4 643.9 1411.7 653.9 1412.9C663.8 1414.1 673.8 1415.2 683.8 1416.3C693.8 1417.3 703.8 1418.3 713.8 1419.4C723.8 1420.4 733.8 1421.4 743.8 1422.4C753.8 1423.4 763.8 1424.5 773.8 1425.6C783.8 1426.7 793.8 1427.9 803.8 1429.1C813.8 1430.3 823.8 1431.5 833.7 1432.7C843.7 1433.9 853.7 1435.2 863.7 1436.4C873.7 1437.6 883.6 1438.8 893.6 1439.9C903.6 1441.1 913.6 1442.2 923.6 1443.3C933.6 1444.3 943.6 1445.3 953.6 1446.3C963.7 1447.2 973.7 1448.1 983.7 1449.0C993.7 1449.9 1003.8 1450.7 1013.8 1451.6C1023.8 1452.4 1033.8 1453.3 1043.9 1454.1C1053.9 1454.9 1063.9 1455.8 1073.9 1456.7C1084.0 1457.5 1094.0 1458.4 1104.0 1459.4C1114.0 1460.3 1124.0 1461.3 1134.0 1462.4C1144.0 1463.4 1154.0 1464.6 1164.0 1465.8C1174.0 1467.0 1183.9 1468.3 1193.9 1469.6C1203.8 1471.0 1213.8 1472.5 1223.7 1474.1C1233.6 1475.7 1243.5 1477.4 1253.4 1479.2C1263.3 1481.1 1273.2 1483.0 1283.0 1485.0C1292.9 1486.9 1302.8 1489.1 1312.0 1493.2C1312.6 1493.5 1313.3 1493.8 1313.9 1494.1C1314.5 1494.4 1315.1 1494.7 1315.7 1495.0C1316.3 1495.4 1316.9 1495.8 1317.4 1496.3C1317.9 1496.8 1318.4 1497.4 1318.6 1498.0C1319.0 1498.7 1319.0 1499.6 1318.6 1500.3C1318.4 1500.9 1318.0 1501.5 1317.5 1502.0C1316.6 1502.9 1315.5 1503.6 1314.3 1504.1C1310.9 1505.8 1307.4 1506.9 1303.9 1507.9C1294.1 1510.4 1284.1 1511.8 1274.2 1513.5C1264.3 1515.2 1254.4 1516.7 1244.4 1517.9C1234.5 1519.2 1224.5 1520.3 1214.4 1521.2C1204.4 1522.2 1194.3 1523.1 1184.3 1524.0C1174.3 1524.8 1164.2 1525.7 1154.2 1526.6C1144.2 1527.5 1134.2 1528.4 1124.2 1529.2C1114.2 1530.1 1104.1 1530.9 1094.1 1531.7C1084.1 1532.6 1074.1 1533.3 1064.1 1534.1C1054.0 1534.8 1044.0 1535.6 1034.0 1536.3C1023.9 1537.0 1013.9 1537.7 1003.9 1538.3C993.8 1539.0 983.8 1539.6 973.8 1540.3C963.7 1540.9 953.7 1541.5 943.7 1542.1C933.6 1542.7 923.6 1543.2 913.5 1543.8C903.5 1544.4 893.4 1544.9 883.4 1545.5C873.4 1546.0 863.3 1546.5 853.3 1547.1C843.2 1547.6 833.2 1548.1 823.1 1548.6C813.1 1549.2 803.0 1549.7 793.0 1550.2C782.9 1550.7 772.9 1551.2 762.9 1551.7C752.8 1552.2 742.8 1552.8 732.7 1553.3C722.7 1553.8 712.7 1554.4 702.6 1554.9C692.6 1555.5 682.5 1556.0 672.5 1556.6C662.5 1557.2 652.4 1557.8 642.4 1558.5C632.4 1559.1 622.3 1559.7 612.3 1560.4C602.3 1561.1 592.3 1561.8 582.2 1562.5C572.2 1563.3 562.2 1564.1 552.2 1564.9C542.1 1565.7 532.1 1566.5 522.1 1567.4C512.1 1568.3 502.1 1569.3 492.1 1570.2C482.0 1571.2 472.0 1572.3 462.0 1573.3C452.0 1574.4 442.0 1575.5 432.0 1576.7C422.0 1577.8 412.0 1578.9 402.0 1580.1C392.1 1581.3 382.1 1582.5 372.1 1583.6C362.1 1584.8 352.1 1586.0 342.2 1587.1C332.2 1588.3 322.2 1589.4 312.3 1590.5C302.3 1591.6 292.4 1592.8 282.4 1594.3C272.4 1595.7 262.4 1597.3 252.5 1599.4C242.5 1601.5 232.5 1604.0 223.3 1607.8C214.6 1611.5 206.7 1616.3 200.2 1623.1C198.1 1625.3 196.2 1627.7 194.4 1630.3"/>
<path stroke="#FF00FF" d="M191.6 54.6L191.6 1130.0C191.1 1140.2 191.3 1150.3 191.7 1160.3C192.1 1170.4 192.8 1180.4 193.4 1190.5C194.1 1200.5 194.7 1210.6 195.3 1220.7C195.8 1230.8 196.4 1240.9 197.7 1250.9C199.0 1260.9 201.0 1270.8 204.2 1280.3C207.4 1289.8 211.7 1299.0 217.1 1307.5C222.6 1316.1 229.0 1323.9 236.4 1330.7C243.8 1337.5 252.1 1343.1 261.0 1348.0C269.8 1352.8 279.1 1356.8 288.6 1360.4C298.0 1364.0 307.5 1367.3 317.0 1370.5C326.6 1373.7 336.2 1376.7 345.9 1379.5C355.5 1382.4 365.2 1385.1 374.9 1387.8C384.5 1390.4 394.2 1392.9 404.0 1395.3C413.7 1397.7 423.4 1400.1 433.1 1402.4C442.9 1404.7 452.7 1406.9 462.5 1409.1C472.3 1411.3 482.1 1413.5 491.9 1415.6C501.7 1417.7 511.6 1419.7 521.4 1421.7C531.3 1423.7 541.2 1425.6 551.1 1427.4C561.0 1429.3 570.9 1431.0 580.8 1432.7C590.7 1434.4 600.6 1436.0 610.6 1437.5C620.5 1439.0 630.5 1440.5 640.4 1441.9C650.4 1443.2 660.3 1444.5 670.3 1445.8C680.3 1447.0 690.2 1448.2 700.2 1449.4C710.2 1450.5 720.2 1451.6 730.1 1452.7C740.1 1453.8 750.1 1454.8 760.1 1455.8C770.1 1456.9 780.1 1457.9 790.1 1458.9C800.1 1459.9 810.1 1460.9 820.1 1461.9C830.1 1462.9 840.1 1463.9 850.1 1464.9C860.1 1466.0 870.1 1467.0 880.1 1468.1C890.1 1469.2 900.1 1470.3 910.1 1471.4C920.1 1472.6 930.1 1473.8 940.1 1475.0C950.1 1476.1 960.1 1477.3 970.1 1478.5C980.1 1479.7 990.1 1480.9 1000.0 1482.0C1010.0 1483.2 1020.0 1484.3 1030.0 1485.4C1039.9 1486.5 1049.9 1487.5 1059.9 1488.5C1069.9 1489.5 1079.8 1490.5 1089.8 1491.5C1099.8 1492.4 1109.7 1493.4 1119.7 1494.4C1129.7 1495.4 1139.7 1496.4 1149.6 1497.5C1159.6 1498.5 1169.6 1499.7 1179.6 1500.9C1189.6 1502.1 1199.6 1503.4 1209.7 1504.9C1219.7 1506.3 1229.7 1507.8 1239.6 1509.4C1249.6 1511.0 1259.5 1512.8 1269.3 1514.6C1279.3 1516.4 1289.1 1518.3 1298.9 1521.3C1299.7 1521.6 1300.4 1521.8 1301.2 1522.0C1301.8 1522.2 1302.5 1522.5 1303.1 1522.7C1303.7 1522.9 1304.4 1523.1 1305.0 1523.3C1305.6 1523.5 1306.3 1523.8 1306.9 1524.0C1307.5 1524.2 1308.2 1524.5 1308.8 1524.8C1309.5 1525.1 1310.2 1525.4 1310.9 1525.8C1311.6 1526.2 1312.3 1526.6 1312.8 1527.1C1313.4 1527.6 1314.0 1528.2 1314.4 1528.8C1314.8 1529.4 1315.1 1530.0 1315.3 1530.6C1315.5 1531.4 1315.5 1532.2 1315.2 1532.9C1314.9 1533.7 1314.3 1534.3 1313.8 1534.9C1312.8 1535.8 1311.6 1536.4 1310.3 1536.9C1306.5 1538.5 1302.8 1539.6 1299.0 1540.4C1289.1 1542.5 1279.2 1544.3 1269.3 1545.8C1259.3 1547.4 1249.4 1548.7 1239.4 1549.8C1229.4 1551.0 1219.4 1551.9 1209.4 1552.8C1199.4 1553.6 1189.4 1554.4 1179.4 1555.1C1169.3 1555.8 1159.3 1556.4 1149.3 1557.1C1139.2 1557.7 1129.2 1558.4 1119.2 1559.0C1109.1 1559.7 1099.1 1560.4 1089.1 1561.0C1079.0 1561.7 1069.0 1562.3 1059.0 1563.0C1049.0 1563.7 1038.9 1564.3 1028.9 1565.0C1018.9 1565.6 1008.8 1566.3 998.8 1566.9C988.8 1567.6 978.8 1568.3 968.7 1568.9C958.7 1569.6 948.7 1570.2 938.6 1570.8C928.6 1571.5 918.6 1572.1 908.6 1572.8C898.5 1573.4 888.5 1574.0 878.5 1574.7C868.4 1575.3 858.4 1575.9 848.4 1576.5C838.3 1577.2 828.3 1577.8 818.3 1578.4C808.2 1579.0 798.2 1579.6 788.2 1580.2C778.2 1580.8 768.1 1581.4 758.1 1582.0C748.1 1582.6 738.0 1583.3 728.0 1583.9C718.0 1584.5 707.9 1585.1 697.9 1585.8C687.9 1586.4 677.8 1587.1 667.8 1587.7C657.8 1588.4 647.7 1589.1 637.7 1589.8C627.7 1590.5 617.7 1591.2 607.6 1591.9C597.6 1592.6 587.6 1593.4 577.6 1594.1C567.6 1594.9 557.5 1595.7 547.5 1596.5C537.5 1597.3 527.5 1598.2 517.5 1599.0C507.5 1599.9 497.5 1600.8 487.5 1601.6C477.4 1602.5 467.4 1603.4 457.4 1604.3C447.4 1605.2 437.4 1606.2 427.4 1607.1C417.4 1608.0 407.4 1608.9 397.4 1609.8C387.3 1610.7 377.3 1611.7 367.3 1612.7C357.3 1613.7 347.3 1614.8 337.4 1616.0C327.4 1617.2 317.4 1618.6 307.5 1620.1C297.6 1621.7 287.7 1623.5 277.9 1625.5C272.3 1626.6 266.7 1627.9 261.2 1629.2"/>
<path stroke="#CC00CC" d="M191.6 54.6L191.6 1150.0C192.1 1160.1 192.3 1170.1 192.6 1180.0C192.8 1190.1 192.9 1200.2 193.1 1210.3C193.4 1220.3 193.7 1230.4 194.2 1240.4C194.7 1250.5 195.4 1260.6 196.4 1270.7C197.4 1280.6 198.8 1290.7 200.7 1300.6C202.7 1310.6 205.4 1320.4 209.4 1329.5C213.5 1338.7 218.9 1347.1 225.8 1354.7C232.4 1362.0 240.3 1368.6 248.6 1374.4C256.9 1380.3 265.6 1385.4 274.4 1390.1C283.4 1394.7 292.6 1398.8 301.9 1402.5C311.3 1406.2 320.8 1409.5 330.4 1412.5C340.0 1415.5 349.7 1418.2 359.5 1420.8C369.3 1423.4 379.1 1425.8 388.9 1428.3C398.7 1430.8 408.5 1433.2 418.4 1435.6C428.2 1438.0 438.0 1440.3 447.9 1442.6C457.7 1444.8 467.6 1447.1 477.5 1449.2C487.4 1451.3 497.2 1453.3 507.2 1455.3C517.1 1457.2 527.0 1459.1 536.9 1460.8C546.9 1462.6 556.8 1464.2 566.8 1465.8C576.8 1467.4 586.8 1468.9 596.7 1470.4C606.7 1471.8 616.7 1473.2 626.8 1474.5C636.8 1475.9 646.8 1477.2 656.8 1478.4C666.8 1479.7 676.9 1480.9 686.9 1482.1C696.9 1483.3 707.0 1484.5 717.0 1485.6C727.0 1486.8 737.1 1487.9 747.1 1489.1C757.2 1490.2 767.2 1491.4 777.2 1492.6C787.3 1493.7 797.3 1494.9 807.3 1496.1C817.4 1497.3 827.4 1498.5 837.5 1499.7C847.5 1500.9 857.5 1502.1 867.5 1503.3C877.6 1504.5 887.6 1505.7 897.6 1506.9C907.7 1508.0 917.7 1509.2 927.7 1510.4C937.8 1511.5 947.8 1512.7 957.8 1513.8C967.9 1515.0 977.9 1516.1 988.0 1517.1C998.0 1518.2 1008.0 1519.3 1018.1 1520.3C1028.1 1521.4 1038.2 1522.3 1048.2 1523.3C1058.3 1524.3 1068.3 1525.2 1078.4 1526.1C1088.4 1527.0 1098.5 1527.9 1108.5 1528.8C1118.6 1529.7 1128.6 1530.5 1138.7 1531.4C1148.8 1532.2 1158.8 1533.0 1168.9 1533.8C1179.0 1534.6 1189.1 1535.4 1199.1 1536.3C1209.2 1537.2 1219.3 1538.1 1229.3 1539.2C1239.3 1540.3 1249.4 1541.5 1259.4 1542.9C1269.4 1544.4 1279.3 1546.0 1289.3 1547.9C1299.2 1549.9 1309.3 1551.7 1318.6 1555.3C1319.2 1555.5 1319.9 1555.8 1320.5 1556.1C1321.2 1556.3 1321.8 1556.6 1322.5 1556.9C1323.1 1557.2 1323.8 1557.6 1324.4 1558.0C1325.0 1558.5 1325.6 1559.1 1325.9 1559.7C1326.3 1560.5 1326.2 1561.2 1325.7 1561.8C1325.3 1562.3 1324.7 1562.8 1324.1 1563.1C1322.5 1564.2 1320.7 1564.7 1318.9 1565.2C1310.1 1567.6 1301.6 1569.4 1292.7 1571.0C1282.8 1572.8 1272.8 1574.5 1262.8 1576.1C1252.8 1577.6 1242.9 1579.0 1232.9 1580.3C1222.8 1581.6 1212.8 1582.7 1202.8 1583.7C1192.7 1584.7 1182.7 1585.7 1172.6 1586.5C1162.5 1587.4 1152.5 1588.2 1142.4 1588.9C1132.3 1589.6 1122.2 1590.4 1112.1 1591.1C1102.0 1591.8 1092.0 1592.5 1081.9 1593.2C1071.8 1593.9 1061.7 1594.6 1051.6 1595.3C1041.6 1596.0 1031.5 1596.7 1021.4 1597.5C1011.3 1598.2 1001.2 1598.9 991.2 1599.6C981.1 1600.4 971.0 1601.1 960.9 1601.8C950.8 1602.6 940.8 1603.3 930.7 1604.0C920.6 1604.8 910.6 1605.5 900.5 1606.2C890.4 1607.0 880.3 1607.7 870.3 1608.5C860.2 1609.2 850.1 1609.9 840.0 1610.7C830.0 1611.4 819.9 1612.2 809.8 1612.9C799.7 1613.7 789.7 1614.4 779.6 1615.2C769.5 1615.9 759.5 1616.6 749.4 1617.4C739.3 1618.1 729.2 1618.9 719.2 1619.6C709.1 1620.4 699.0 1621.1 688.9 1621.9C678.9 1622.6 668.8 1623.3 658.7 1624.1C648.6 1624.8 638.6 1625.6 628.5 1626.3C618.4 1627.0 608.3 1627.8 598.2 1628.5C593.3 1628.9 588.3 1629.2 583.3 1629.6"/>
</g>
<g fill="none" stroke-width="7.4" stroke-linecap="round">
<path stroke="#00B0F0" d="M822.9 107.0H907.8"/>
<path stroke="#FFFF99" d="M822.9 186.9H907.8"/>
<path stroke="#FFFF00" d="M822.9 266.9H907.8"/>
<path stroke="#FFCC00" d="M822.9 346.9H907.8"/>
<path stroke="#FF9900" d="M822.9 426.8H907.8"/>
<path stroke="#CC6600" d="M822.9 506.8H907.8"/>
<path stroke="#006666" d="M822.9 586.7H907.8"/>
<path stroke="#00CC00" d="M822.9 666.6H907.8"/>
<path stroke="#66CCFF" d="M822.9 746.6H907.8"/>
<path stroke="#66FFFF" d="M822.9 826.6H907.8"/>
<path stroke="#FFCCFF" d="M822.9 906.5H907.8"/>
<path stroke="#FF99FF" d="M822.9 986.5H907.8"/>
<path stroke="#FF66FF" d="M822.9 1066.4H907.8"/>
<path stroke="#FF00FF" d="M822.9 1146.4H907.8"/>
<path stroke="#CC00CC" d="M822.9 1226.3H907.8"/>
</g>
<g font-size="55.5px" stroke="#000" stroke-width="0.6">
<text x="917.5" y="125.7" textLength="358.1" lengthAdjust="spacingAndGlyphs">CH01 89.0GHz</text>
<text x="917.5" y="205.6" textLength="561.9" lengthAdjust="spacingAndGlyphs">CH02 118.75±0.08GHz</text>
<text x="917.5" y="285.6" textLength="531.5" lengthAdjust="spacingAndGlyphs">CH03 118.75±0.2GHz</text>
<text x="917.5" y="365.6" textLength="531.5" lengthAdjust="spacingAndGlyphs">CH04 118.75±0.3GHz</text>
<text x="917.5" y="445.5" textLength="531.5" lengthAdjust="spacingAndGlyphs">CH05 118.75±0.8GHz</text>
<text x="917.5" y="525.5" textLength="531.5" lengthAdjust="spacingAndGlyphs">CH06 118.75±1.1GHz</text>
<text x="917.5" y="605.4" textLength="531.5" lengthAdjust="spacingAndGlyphs">CH07 118.75±2.5GHz</text>
<text x="917.5" y="685.4" textLength="526.0" lengthAdjust="spacingAndGlyphs">Ch08 118.75±3.0GHz</text>
<text x="917.5" y="765.3" textLength="531.5" lengthAdjust="spacingAndGlyphs">CH09 118.75±5.0GHz</text>
<text x="917.5" y="845.3" textLength="389.9" lengthAdjust="spacingAndGlyphs">CH10 150.0GHz</text>
<text x="917.5" y="925.2" textLength="483.8" lengthAdjust="spacingAndGlyphs">CH11 183.31±1GHz</text>
<text x="917.5" y="1005.2" textLength="531.5" lengthAdjust="spacingAndGlyphs">CH12 183.31±1.8GHz</text>
<text x="917.5" y="1085.1" textLength="483.8" lengthAdjust="spacingAndGlyphs">CH13 183.31±3GHz</text>
<text x="917.5" y="1165.1" textLength="531.5" lengthAdjust="spacingAndGlyphs">CH14 183.31±4.5GHz</text>
<text x="917.5" y="1245.0" textLength="483.8" lengthAdjust="spacingAndGlyphs">CH15 183.31±7GHz</text>
</g>
<path d="M797.4 1283.7V869.4H1492.4V1283.7Z" fill="none" stroke="#ED7D31" stroke-width="5" stroke-dasharray="39.4 15.3"/>
<g font-weight="bold" font-size="56px" text-anchor="end">
<text x="148" y="72.2">1</text>
<text x="148" y="591.9">10</text>
<text x="148" y="1111.6" textLength="90.5" lengthAdjust="spacingAndGlyphs">100</text>
<text x="148" y="1631.3" textLength="120.5" lengthAdjust="spacingAndGlyphs">1000</text>
</g>
<g font-weight="bold" font-size="48.5px" text-anchor="middle">
<text x="192.1" y="1719">0</text>
<text x="546.6" y="1719">0.5</text>
<text x="901.1" y="1719">1</text>
<text x="1255.6" y="1719">1.5</text>
<text x="1610.1" y="1719">2</text>
</g>
</svg></body></html>
